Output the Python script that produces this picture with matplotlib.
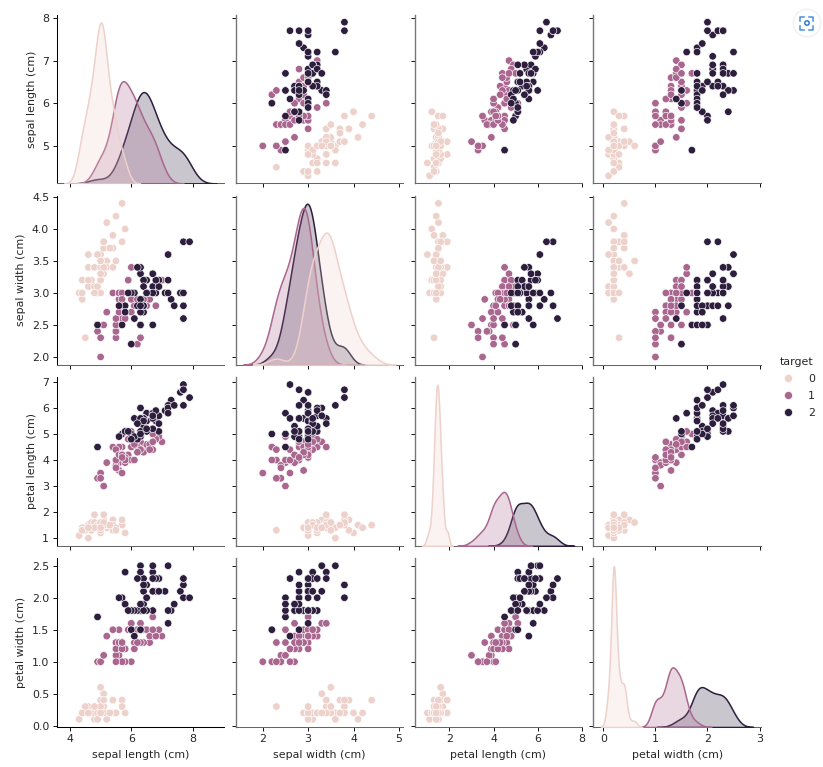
import matplotlib
matplotlib.use("Agg")
import matplotlib.pyplot as plt
from matplotlib.patches import Circle
from matplotlib.transforms import Affine2D
import pandas as pd
import seaborn as sns

# iris measurements, 50 rows per class (setosa, versicolor, virginica)
sepal_length = [
    5.1,4.9,4.7,4.6,5.0,5.4,4.6,5.0,4.4,4.9,5.4,4.8,4.8,4.3,5.8,5.7,5.4,5.1,5.7,5.1,
    5.4,5.1,4.6,5.1,4.8,5.0,5.0,5.2,5.2,4.7,4.8,5.4,5.2,5.5,4.9,5.0,5.5,4.9,4.4,5.1,
    5.0,4.5,4.4,5.0,5.1,4.8,5.1,4.6,5.3,5.0,
    7.0,6.4,6.9,5.5,6.5,5.7,6.3,4.9,6.6,5.2,5.0,5.9,6.0,6.1,5.6,6.7,5.6,5.8,6.2,5.6,
    5.9,6.1,6.3,6.1,6.4,6.6,6.8,6.7,6.0,5.7,5.5,5.5,5.8,6.0,5.4,6.0,6.7,6.3,5.6,5.5,
    5.5,6.1,5.8,5.0,5.6,5.7,5.7,6.2,5.1,5.7,
    6.3,5.8,7.1,6.3,6.5,7.6,4.9,7.3,6.7,7.2,6.5,6.4,6.8,5.7,5.8,6.4,6.5,7.7,7.7,6.0,
    6.9,5.6,7.7,6.3,6.7,7.2,6.2,6.1,6.4,7.2,7.4,7.9,6.4,6.3,6.1,7.7,6.3,6.4,6.0,6.9,
    6.7,6.9,5.8,6.8,6.7,6.7,6.3,6.5,6.2,5.9,
]
sepal_width = [
    3.5,3.0,3.2,3.1,3.6,3.9,3.4,3.4,2.9,3.1,3.7,3.4,3.0,3.0,4.0,4.4,3.9,3.5,3.8,3.8,
    3.4,3.7,3.6,3.3,3.4,3.0,3.4,3.5,3.4,3.2,3.1,3.4,4.1,4.2,3.1,3.2,3.5,3.6,3.0,3.4,
    3.5,2.3,3.2,3.5,3.8,3.0,3.8,3.2,3.7,3.3,
    3.2,3.2,3.1,2.3,2.8,2.8,3.3,2.4,2.9,2.7,2.0,3.0,2.2,2.9,2.9,3.1,3.0,2.7,2.2,2.5,
    3.2,2.8,2.5,2.8,2.9,3.0,2.8,3.0,2.9,2.6,2.4,2.4,2.7,2.7,3.0,3.4,3.1,2.3,3.0,2.5,
    2.6,3.0,2.6,2.3,2.7,3.0,2.9,2.9,2.5,2.8,
    3.3,2.7,3.0,2.9,3.0,3.0,2.5,2.9,2.5,3.6,3.2,2.7,3.0,2.5,2.8,3.2,3.0,3.8,2.6,2.2,
    3.2,2.8,2.8,2.7,3.3,3.2,2.8,3.0,2.8,3.0,2.8,3.8,2.8,2.8,2.6,3.0,3.4,3.1,3.0,3.1,
    3.1,3.1,2.7,3.2,3.3,3.0,2.5,3.0,3.4,3.0,
]
petal_length = [
    1.4,1.4,1.3,1.5,1.4,1.7,1.4,1.5,1.4,1.5,1.5,1.6,1.4,1.1,1.2,1.5,1.3,1.4,1.7,1.5,
    1.7,1.5,1.0,1.7,1.9,1.6,1.6,1.5,1.4,1.6,1.6,1.5,1.5,1.4,1.5,1.2,1.3,1.4,1.3,1.5,
    1.3,1.3,1.3,1.6,1.9,1.4,1.6,1.4,1.5,1.4,
    4.7,4.5,4.9,4.0,4.6,4.5,4.7,3.3,4.6,3.9,3.5,4.2,4.0,4.7,3.6,4.4,4.5,4.1,4.5,3.9,
    4.8,4.0,4.9,4.7,4.3,4.4,4.8,5.0,4.5,3.5,3.8,3.7,3.9,5.1,4.5,4.5,4.7,4.4,4.1,4.0,
    4.4,4.6,4.0,3.3,4.2,4.2,4.2,4.3,3.0,4.1,
    6.0,5.1,5.9,5.6,5.8,6.6,4.5,6.3,5.8,6.1,5.1,5.3,5.5,5.0,5.1,5.3,5.5,6.7,6.9,5.0,
    5.7,4.9,6.7,4.9,5.7,6.0,4.8,4.9,5.6,5.8,6.1,6.4,5.6,5.1,5.6,6.1,5.6,5.5,4.8,5.4,
    5.6,5.1,5.1,5.9,5.7,5.2,5.0,5.2,5.4,5.1,
]
petal_width = [
    0.2,0.2,0.2,0.2,0.2,0.4,0.3,0.2,0.2,0.1,0.2,0.2,0.1,0.1,0.2,0.4,0.4,0.3,0.3,0.3,
    0.2,0.4,0.2,0.5,0.2,0.2,0.4,0.2,0.2,0.2,0.2,0.4,0.1,0.2,0.2,0.2,0.2,0.1,0.2,0.2,
    0.3,0.3,0.2,0.6,0.4,0.3,0.2,0.2,0.2,0.2,
    1.4,1.5,1.5,1.3,1.5,1.3,1.6,1.0,1.3,1.4,1.0,1.5,1.0,1.4,1.3,1.4,1.5,1.0,1.5,1.1,
    1.8,1.3,1.5,1.2,1.3,1.4,1.4,1.7,1.5,1.0,1.1,1.0,1.2,1.6,1.5,1.6,1.5,1.3,1.3,1.3,
    1.2,1.4,1.2,1.0,1.3,1.2,1.3,1.3,1.1,1.3,
    2.5,1.9,2.1,1.8,2.2,2.1,1.7,1.8,1.8,2.5,2.0,1.9,2.1,2.0,2.4,2.3,1.8,2.2,2.3,1.5,
    2.3,2.0,2.0,1.8,2.1,1.8,1.8,1.8,2.1,1.6,1.9,2.0,2.2,1.5,1.4,2.3,2.4,1.8,1.8,2.1,
    2.4,2.3,1.9,2.3,2.5,2.3,1.9,2.0,2.3,1.8,
]
target = [0] * 50 + [1] * 50 + [2] * 50

df = pd.DataFrame({
    "sepal length (cm)": sepal_length,
    "sepal width (cm)": sepal_width,
    "petal length (cm)": petal_length,
    "petal width (cm)": petal_width,
    "target": target,
})

# the reference is a 10in pairplot shrunk to about 78%
plt.rcParams.update({
    "font.size": 7.9,
    "axes.labelsize": 7.9,
    "xtick.labelsize": 7.9,
    "ytick.labelsize": 7.9,
    "legend.fontsize": 7.9,
    "legend.title_fontsize": 7.9,
    "legend.labelspacing": 0.62,
    "axes.linewidth": 0.75,
    "xtick.major.size": 2.7,
    "ytick.major.size": 2.7,
    "xtick.major.width": 0.65,
    "ytick.major.width": 0.65,
    "xtick.major.pad": 2.7,
    "ytick.major.pad": 2.7,
    "axes.labelpad": 4,
    "text.color": "#262626",
    "axes.labelcolor": "#262626",
    "xtick.labelcolor": "#262626",
    "ytick.labelcolor": "#262626",
})

g = sns.pairplot(df, hue="target",
                 plot_kws={"s": 29, "linewidth": 0.45},
                 diag_kws={"linewidth": 1.1})

fig = g.figure
fig.set_size_inches(8.23, 7.67)
fig.subplots_adjust(left=56.7 / 823, right=760.7 / 823,
                    top=1 - 14.5 / 767, bottom=1 - 727 / 767,
                    wspace=0.07, hspace=0.0725)

# legend sits right of the grid, level with the third row
g._legend.set_loc("center left")
g._legend.set_bbox_to_anchor((767.5 / 823, 1 - 387.5 / 767), transform=fig.transFigure)
for handle in g._legend.legend_handles:
    handle.set_markersize(5.8)

# inner spines came out grey after the shrink in the reference
for i, row in enumerate(g.axes):
    for j, ax in enumerate(row):
        if j > 0:
            ax.spines["left"].set_color("#777777")
            ax.spines["left"].set_linewidth(1.0)
        if j > 0 or i < 3:
            ax.spines["bottom"].set_color("#666666")

# viewer button in the top right corner of the screenshot
px = Affine2D().scale(1 / 823, 1 / 767) + fig.transFigure
for r, col in [(14.5, "#f1f1f1"), (13, "white")]:
    fig.add_artist(Circle((807, 767 - 23), r, transform=px, facecolor=col, edgecolor="none"))
for x0, y0, dx, dy in [(800.5, 16.5, 1, 1), (813.5, 16.5, -1, 1), (800.5, 29.5, 1, -1), (813.5, 29.5, -1, -1)]:
    fig.add_artist(plt.Line2D([x0 + dx * 4, x0, x0], [767 - y0, 767 - y0, 767 - y0 - dy * 4],
                              transform=px, color="#4a8fdc", linewidth=1.1))
fig.add_artist(Circle((807, 767 - 23), 2.2, transform=px, facecolor="white", edgecolor="#1f6fc9", linewidth=1.0))

fig.savefig("out.png", dpi=100)
